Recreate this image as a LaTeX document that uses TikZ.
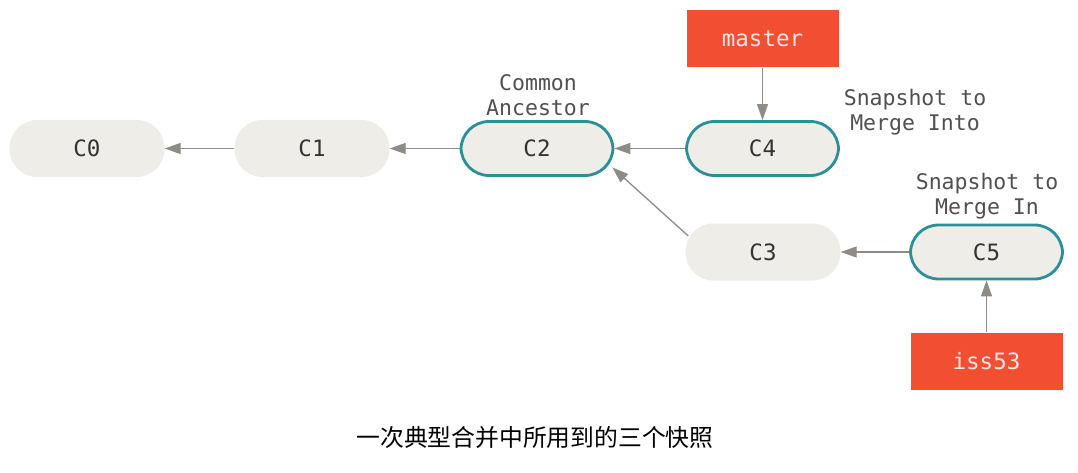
\documentclass[tikz,border=0pt]{standalone}
\usepackage{fontspec}
\setmonofont{DejaVu Sans Mono}
\newfontfamily\cjk{Noto Sans CJK SC}
\usetikzlibrary{arrows.meta,calc}
\definecolor{commitfill}{HTML}{EEEDE7}
\definecolor{tealborder}{HTML}{2B8F98}
\definecolor{arrowgray}{HTML}{8F8C87}
\definecolor{branchred}{HTML}{F14E32}
\definecolor{labeltext}{HTML}{333333}
\definecolor{notetext}{HTML}{505050}
\tikzset{
  commit/.style={rectangle, rounded corners=28pt, fill=commitfill, minimum width=155pt, minimum height=57pt, inner sep=0pt, font=\ttfamily\fontsize{22.5}{26}\selectfont, text=labeltext},
  keycommit/.style={commit, draw=tealborder, line width=2.8pt, minimum width=152pt, minimum height=54pt},
  branch/.style={rectangle, fill=branchred, minimum width=152pt, minimum height=57pt, inner sep=0pt, font=\ttfamily\fontsize{22.5}{26}\selectfont, text=white!90!red},
  note/.style={align=center, font=\ttfamily\fontsize{21.5}{24.5}\selectfont, text=notetext, inner sep=0pt},
  link/.style={draw=arrowgray, line width=1.3pt, -{Triangle[length=16pt,width=11pt]}}
}
\begin{document}
\begin{tikzpicture}[x=1pt,y=-1pt]
\useasboundingbox[fill=white] (0,0) rectangle (1078,473);
\node[commit] (C0) at (87,148.5) {C0};
\node[commit] (C1) at (312,148.5) {C1};
\node[keycommit] (C2) at (537,148.5) {C2};
\node[keycommit] (C4) at (762.5,148.5) {C4};
\node[commit] (C3) at (763,252) {C3};
\node[keycommit] (C5) at (986.5,252) {C5};
\node[branch] (master) at (762.5,39) {master};
\node[branch] (iss53) at (986.5,361) {iss53};
\node[note] (ca) at (538,95) {Common\\Ancestor};
\node[note] (sinto) at (915,112) {Snapshot to\\Merge Into};
\node[note] (sin) at (987,196) {Snapshot to\\Merge In};
\node[font=\cjk\fontsize{23.8}{27}\selectfont, text=black, inner sep=0pt] (cap) at (535,437) {一次典型合并中所用到的三个快照};
\draw[link] (C1.west) -- (C0.east);
\draw[link] (C2.west) -- (C1.east);
\draw[link] (C4.west) -- (C2.east);
\draw[link] ($(C3.west)+(3,-16)$) -- ($(C2.east)+(-2,19)$);
\draw[link] (C5.west) -- (C3.east);
\draw[link] (master.south) -- (C4.north);
\draw[link] (iss53.north) -- (C5.south);
\end{tikzpicture}
\end{document}
